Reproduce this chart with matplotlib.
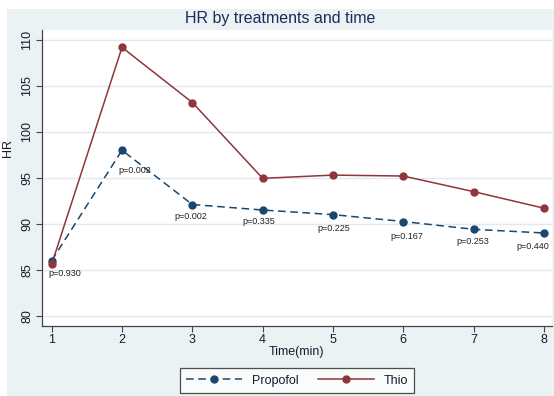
import matplotlib
matplotlib.use("Agg")
import matplotlib.pyplot as plt
from matplotlib.patches import Rectangle

plt.rcParams['font.family'] = ['Liberation Sans', 'DejaVu Sans']

# data
time_min = [1, 2, 3, 4, 5, 6, 7, 8]
propofol = [86.0, 98.0, 92.1, 91.5, 91.0, 90.25, 89.4, 89.0]
thio = [85.6, 109.2, 103.2, 94.95, 95.3, 95.2, 93.5, 91.7]
p_values = ["p=0.930", "p=0.002", "p=0.002", "p=0.335",
            "p=0.225", "p=0.167", "p=0.253", "p=0.440"]
y_ticks = [80, 85, 90, 95, 100, 105, 110]

# label offsets (points) from each propofol marker
label_dx = [9.4, 9.0, -1.2, -2.9, 0.7, 2.2, -0.7, -8.3]
label_dy = [-9.1, -14.2, -8.9, -8.6, -10.0, -10.8, -9.1, -9.6]

navy = "#1A476F"
maroon = "#90353B"
bg = "#EAF2F3"

fig = plt.figure(figsize=(5.54, 3.96), dpi=100)
fig.patch.set_facecolor("white")
# graph region background (chart is cropped at left/top)
fig.add_artist(Rectangle((7 / 554, 0), 1, 1 - 9 / 396, transform=fig.transFigure,
                         facecolor=bg, edgecolor="none", zorder=0))

ax = fig.add_axes([41.7 / 554, 1 - 326 / 396, 510 / 554, 296 / 396])
ax.set_facecolor("white")

l1, = ax.plot(time_min, propofol, color=navy, lw=1.1, marker="o", markersize=5,
              label="Propofol", zorder=3)
l1.set_dashes((5, 3))
ax.plot(time_min, thio, color=maroon, lw=1.1, marker="o", markersize=5,
        label="Thio", zorder=4)

for x, y, txt, dx, dy in zip(time_min, propofol, p_values, label_dx, label_dy):
    ax.annotate(txt, (x, y), xytext=(dx, dy), textcoords="offset points",
                ha="center", va="center", fontsize=6.5, color="#222222")

ax.set_xlim(0.858, 8.11)
ax.set_ylim(78.88, 111.09)
ax.set_xticks(time_min)
ax.set_yticks(y_ticks)
ax.set_yticklabels(y_ticks, rotation=90, va="center")
ax.grid(axis="y", color="#E0EAEE", lw=1.0)
ax.set_axisbelow(True)

for s in ["top", "right"]:
    ax.spines[s].set_visible(False)
for s in ["left", "bottom"]:
    ax.spines[s].set_color("#444444")
    ax.spines[s].set_linewidth(0.9)

ax.tick_params(axis="both", length=4, width=0.8, color="#444444",
               labelsize=9, labelcolor="#1a1a2e", pad=2)

ax.set_xlabel("Time(min)", fontsize=9, color="#1a1a2e", labelpad=0)
ax.set_ylabel("HR", fontsize=9, color="#1a1a2e")
ax.yaxis.set_label_coords(-0.054, 0.6)

fig.text(280 / 554, 1 - 19 / 396, "HR by treatments and time", ha="center",
         va="center", fontsize=11.5, color="#1E2A5A")

leg = ax.legend(loc="lower center", bbox_to_anchor=(297 / 554, -0.008),
                bbox_transform=fig.transFigure, ncol=2, fontsize=9,
                handlelength=4.5, numpoints=1, frameon=True, fancybox=False,
                borderpad=0.5, columnspacing=1.5, handletextpad=0.8)
leg.get_frame().set_edgecolor("#222222")
leg.get_frame().set_linewidth(0.9)
for t in leg.get_texts():
    t.set_color("#1a1a2e")

fig.savefig("out.png", dpi=100)
